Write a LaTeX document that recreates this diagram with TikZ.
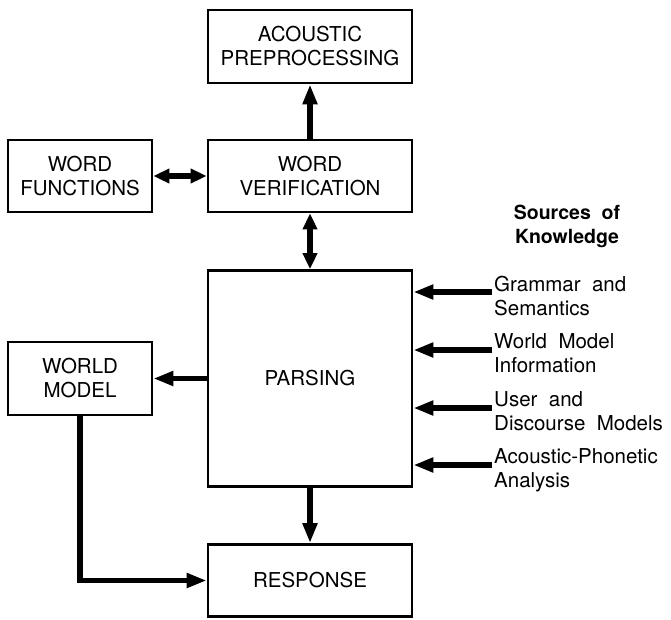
\documentclass[tikz,border=0pt]{standalone}
\usepackage{fontspec}
\setmainfont{TeX Gyre Heros}
\usetikzlibrary{arrows.meta}
\begin{document}
\begin{tikzpicture}[x=1pt,y=-1pt,
  blk/.style={draw,line width=2.8pt,align=center,inner sep=0pt,
    font=\fontsize{20.5}{24}\selectfont},
  src/.style={anchor=north west,align=left,inner sep=0pt,
    font=\fontsize{20.5}{24}\selectfont},
  tip/.style={Triangle[length=20pt,width=14pt]},
  shorttip/.style={Triangle[length=16pt,width=14pt]},
  arr/.style={line width=5.5pt,-{Triangle[length=20pt,width=14pt]}},
  arrtwo/.style={line width=5.5pt,{Triangle[length=16pt,width=14pt]}-{Triangle[length=16pt,width=14pt]}}]
\useasboundingbox (0,0) rectangle (671,619);

% processing blocks
\node[blk,minimum width=204pt,minimum height=73pt] (ap) at (310,46.5) {ACOUSTIC\\PREPROCESSING};
\node[blk,minimum width=144pt,minimum height=72pt] (wf) at (80,176) {WORD\\FUNCTIONS};
\node[blk,minimum width=204pt,minimum height=72pt] (wv) at (310,176) {WORD\\VERIFICATION};
\node[blk,minimum width=204pt,minimum height=216pt] (pa) at (310,378.5) {PARSING};
\node[blk,minimum width=144pt,minimum height=73pt] (wm) at (80,378.5) {WORLD\\MODEL};
\node[blk,minimum width=204pt,minimum height=72pt] (re) at (310,580.5) {RESPONSE};

% connections between blocks
\draw[arr] (wv.north) -- (ap.south);
\draw[arrtwo] (wf.east) -- (wv.west);
\draw[arrtwo] (wv.south) -- (pa.north);
\draw[arr] (pa.west) -- (wm.east);
\draw[arr] (pa.south) -- (re.north);
\draw[arr] (wm.south) |- (re.west);

% sources of knowledge
\node[align=center,inner sep=0pt,font=\bfseries\fontsize{19.5}{24}\selectfont] (sk) at (567,226) {Sources\ \ of\\Knowledge};

\node[src] (k1) at (494,276) {Grammar\ \ and\\Semantics};
\node[src] (k2) at (494,333) {World\ \ Model\\Information};
\node[src] (k3) at (494,391) {User\ \ and\\Discourse\ \ Models};
\node[src] (k4) at (494,448) {Acoustic-Phonetic\\Analysis};

\coordinate (t1) at (492,292);
\coordinate (t2) at (492,350);
\coordinate (t3) at (492,408);
\coordinate (t4) at (492,465);
\draw[arr] (t1) -- (t1 -| pa.east);
\draw[arr] (t2) -- (t2 -| pa.east);
\draw[arr] (t3) -- (t3 -| pa.east);
\draw[arr] (t4) -- (t4 -| pa.east);
\end{tikzpicture}
\end{document}
